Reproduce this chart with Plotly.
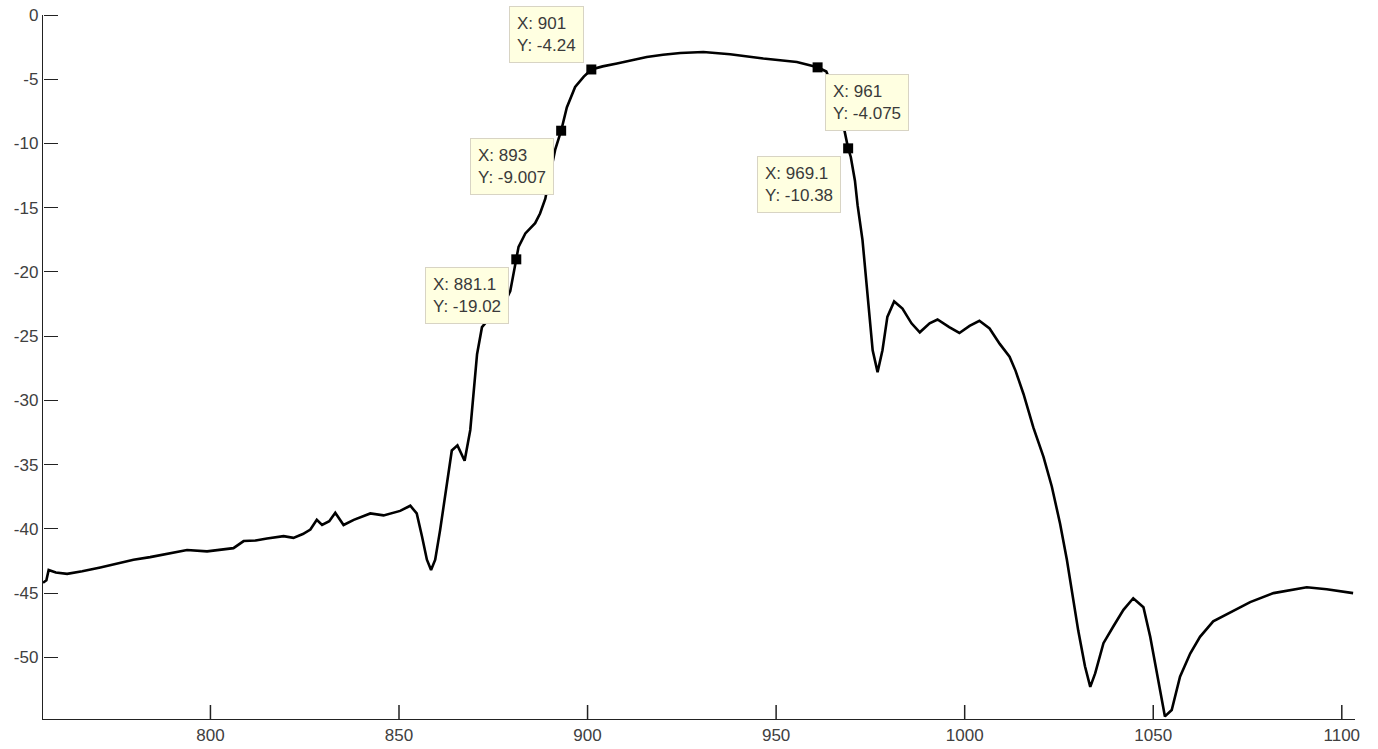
import plotly.graph_objects as go

# ---- data ----
wavelength = [755.6, 756.5, 757.1, 759, 762, 766, 770.8, 775, 779.6, 784, 788.5, 793.8, 799.1, 803,
              806.1, 808.8, 812, 815, 819.4, 822.0, 824.5, 826.5, 828.2, 829.6, 831.5, 833.1, 835.3,
              838.0, 842.4, 845.9, 850.3, 853.0, 854.7, 856.1, 857.4, 858.5, 859.6, 860.9, 862.3,
              864.0, 865.5, 867.4, 868.9, 869.8, 870.7, 872.0, 874, 876, 878, 879.5, 881.1, 881.7,
              883.5, 886.1, 887.4, 888.8, 890, 891.4, 893, 894.5, 896.7, 899.0, 901, 904, 907.8, 911,
              915.7, 920, 924.6, 930.7, 937.8, 946.6, 955.5, 961, 963.3, 965, 967, 969.1, 969.8,
              970.9, 971.6, 972.9, 973.8, 974.7, 975.6, 976.9, 978.2, 979.5, 981.3, 983.5, 985.9,
              988.1, 990.7, 992.8, 995.9, 998.6, 1001.3, 1003.9, 1006.6, 1009.3, 1011.9, 1013.5,
              1015.6, 1018.2, 1020.9, 1023.1, 1025.3, 1027.1, 1028.4, 1030.1, 1031.9, 1033.3,
              1034.6, 1036.8, 1039.4, 1042.1, 1044.7, 1047.4, 1049.2, 1050.9, 1053.1, 1054.9,
              1057.1, 1059.8, 1062.4, 1065.9, 1070.4, 1075.7, 1081.9, 1086.3, 1090.7, 1096.0,
              1100, 1103.0]
level = [-44.2, -44.0, -43.2, -43.4, -43.5, -43.3, -43.0, -42.7, -42.4, -42.2, -41.95, -41.65,
         -41.75, -41.6, -41.5, -40.95, -40.9, -40.75, -40.57, -40.7, -40.4, -40.05, -39.3, -39.7,
         -39.4, -38.75, -39.7, -39.3, -38.8, -38.95, -38.6, -38.2, -38.8, -40.6, -42.4, -43.2,
         -42.4, -40.1, -37.2, -33.9, -33.5, -34.7, -32.3, -29.2, -26.4, -24.3, -23.6, -23.0,
         -22.4, -21.5, -19.02, -18.05, -17.0, -16.2, -15.45, -14.3, -12.5, -10.5, -9.007, -7.2,
         -5.6, -4.8, -4.24, -4.0, -3.78, -3.55, -3.27, -3.1, -2.96, -2.88, -3.06, -3.39, -3.66,
         -4.075, -4.4, -5.6, -7.4, -10.38, -11.05, -12.9, -14.8, -17.5, -20.4, -23.5, -26.1,
         -27.8, -26.1, -23.5, -22.3, -22.85, -24.0, -24.7, -24.0, -23.7, -24.3, -24.75, -24.2,
         -23.8, -24.4, -25.6, -26.6, -27.7, -29.5, -32.1, -34.4, -36.7, -39.6, -42.4, -44.8,
         -47.9, -50.7, -52.3, -51.25, -48.9, -47.6, -46.3, -45.4, -46.1, -48.4, -51.0, -54.6,
         -54.1, -51.5, -49.7, -48.4, -47.2, -46.5, -45.7, -45.0, -44.8, -44.55, -44.7, -44.85,
         -45.0]

tip_x = [881.1, 893, 901, 961, 969.1]
tip_y = [-19.02, -9.007, -4.24, -4.075, -10.38]
tip_x_text = ["881.1", "893", "901", "961", "969.1"]
tip_y_text = ["-19.02", "-9.007", "-4.24", "-4.075", "-10.38"]

x_ticks = [800, 850, 900, 950, 1000, 1050, 1100]
y_ticks = [0, -5, -10, -15, -20, -25, -30, -35, -40, -45, -50]

x_range = [755.6, 1103.5]
y_range = [-54.8, 0]

W, H = 1378, 749
M = dict(l=43, r=23, t=15, b=30)
TICK_PX = 14

# placement of each datatip box relative to its marker
tip_place = [("right", "top", -7, -8), ("right", "top", -7, -7), ("right", "bottom", -7, 6),
             ("left", "top", 7, -7), ("right", "top", -7, -8)]

# inward x tick marks, built from the tick values and the y range
plot_h = H - M["t"] - M["b"]
tick_units = TICK_PX * (y_range[1] - y_range[0]) / plot_h
tick_xs, tick_ys = [], []
for t in x_ticks:
    tick_xs += [t, t, None]
    tick_ys += [y_range[0], y_range[0] + tick_units, None]

fig = go.Figure()
fig.add_trace(go.Scatter(x=wavelength, y=level, mode="lines",
                         line=dict(color="black", width=2.6), hoverinfo="skip"))
fig.add_trace(go.Scatter(x=tip_x, y=tip_y, mode="markers",
                         marker=dict(symbol="square", size=10, color="black"), hoverinfo="skip"))
fig.add_trace(go.Scatter(x=tick_xs, y=tick_ys, mode="lines", connectgaps=False,
                         line=dict(color="#222222", width=1.5, simplify=False),
                         hoverinfo="skip"))
# invisible trace that brings up the overlay y axis carrying the inward y tick marks
fig.add_trace(go.Scatter(x=wavelength, y=level, xaxis="x", yaxis="y2", mode="lines",
                         line=dict(color="rgba(0,0,0,0)", width=0), hoverinfo="skip"))

for xv, yv, xt, yt, (xa, ya, xs, ys) in zip(tip_x, tip_y, tip_x_text, tip_y_text, tip_place):
    fig.add_annotation(x=xv, y=yv, xref="x", yref="y", showarrow=False,
                       text=f"X: {xt}<br>Y: {yt}", align="left",
                       xanchor=xa, yanchor=ya, xshift=xs, yshift=ys,
                       bgcolor="#ffffe1", bordercolor="#d8d4c4", borderwidth=1, borderpad=7,
                       font=dict(family="Liberation Sans, Arial, sans-serif", size=17, color="#3a3a3a"))

axis_font = dict(family="Liberation Sans, Arial, sans-serif", size=17, color="#404040")
fig.update_layout(
    template="none",
    width=W, height=H,
    margin=dict(**M, autoexpand=False),
    paper_bgcolor="white", plot_bgcolor="white",
    showlegend=False,
    xaxis=dict(range=x_range, tickmode="array", tickvals=x_ticks,
               ticktext=[str(v) for v in x_ticks], ticks="", showline=True,
               linecolor="#222222", linewidth=1.3, showgrid=False, zeroline=False,
               tickfont=axis_font, automargin=False),
    yaxis=dict(range=y_range, tickmode="array", tickvals=y_ticks,
               ticktext=[str(v) for v in y_ticks], ticks="", showline=True,
               linecolor="#222222", linewidth=1.3, showgrid=False, zeroline=False,
               tickfont=axis_font, automargin=False),
    yaxis2=dict(range=y_range, overlaying="y", side="right", anchor="free", position=0,
                tickmode="array", tickvals=y_ticks, ticks="outside", ticklen=TICK_PX,
                tickwidth=1.3, tickcolor="#222222", showticklabels=False, showline=False,
                showgrid=False, zeroline=False, automargin=False),
)

fig.write_html("out.html", config={"displayModeBar": False},
               post_script="document.body.style.margin='0px';document.body.style.overflow='hidden';")
